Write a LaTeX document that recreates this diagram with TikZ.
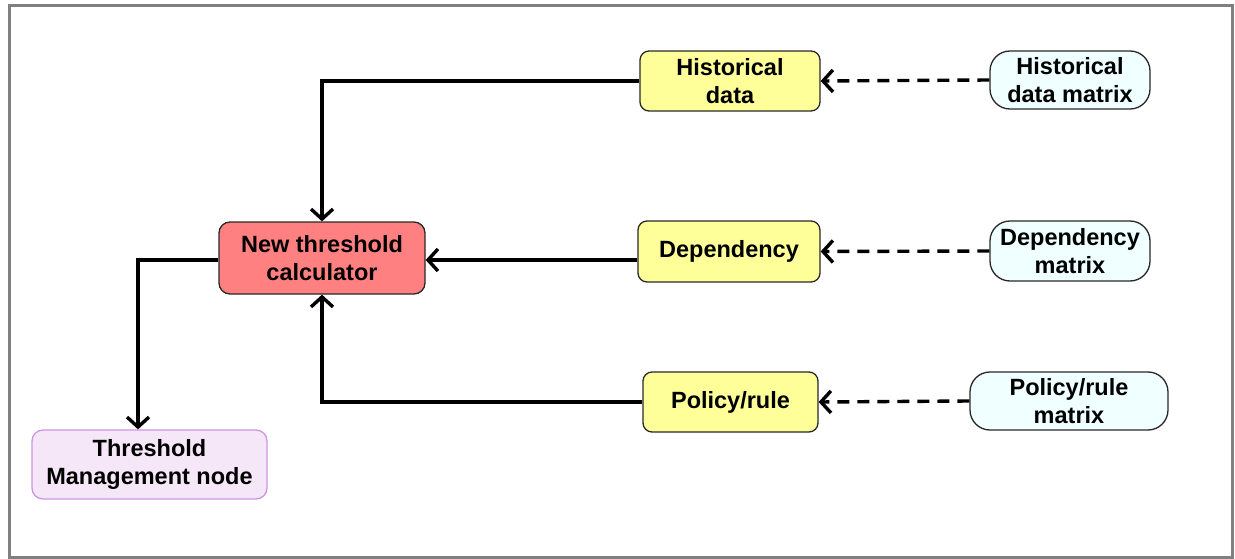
\documentclass[tikz,border=0pt]{standalone}
\usepackage{fontspec}
\setmainfont{Liberation Sans}
\usetikzlibrary{arrows.meta}
\definecolor{boxyellow}{RGB}{255,255,153}
\definecolor{calcred}{RGB}{255,128,128}
\definecolor{matrixcyan}{RGB}{240,255,255}
\definecolor{mgmtfill}{RGB}{245,230,248}
\definecolor{mgmtline}{RGB}{205,150,225}
\definecolor{framegray}{RGB}{128,128,128}
\definecolor{edgegray}{RGB}{40,40,40}
\tikzset{
  x=1pt, y=-1pt,
  every node/.style={font=\fontsize{23.5}{28}\selectfont\bfseries, align=center, inner sep=0pt},
  inputbox/.style={draw=edgegray, line width=1.3pt, fill=boxyellow, rounded corners=9pt},
  matrixbox/.style={draw=edgegray, line width=1.3pt, fill=matrixcyan, rounded corners=20pt},
  calcbox/.style={draw=edgegray, line width=1.3pt, fill=calcred, rounded corners=11pt},
  mgmtbox/.style={draw=mgmtline, line width=1.3pt, fill=mgmtfill, rounded corners=11pt},
  flow/.style={line width=3.4pt, -{Straight Barb[length=10pt,width=22pt,line width=3.4pt]}},
  feed/.style={flow, dash pattern=on 12pt off 8pt}
}
\begin{document}
\begin{tikzpicture}
\useasboundingbox (0,0) rectangle (1235,559);
\draw[framegray, line width=3pt] (9,6) rectangle (1232,557);

% central calculator and its output
\node[calcbox, minimum width=206pt, minimum height=72pt] (calc) at (322,258) {New threshold\\calculator};
\node[mgmtbox, minimum width=235pt, minimum height=69pt] (mgmt) at (149.5,464.5) {Threshold\\Management node};

% input sources
\node[inputbox, minimum width=180pt, minimum height=60pt] (hist) at (730,81) {Historical\\data};
\node[inputbox, minimum width=182pt, minimum height=61pt] (dep) at (729,251.5) {Dependency};
\node[inputbox, minimum width=175pt, minimum height=60pt] (pol) at (730.5,402) {Policy/rule};

% matrices feeding the sources
\node[matrixbox, minimum width=160pt, minimum height=58pt] (histm) at (1070,80) {Historical\\data matrix};
\node[matrixbox, minimum width=160pt, minimum height=60pt] (depm) at (1070,251) {Dependency\\matrix};
\node[matrixbox, minimum width=198pt, minimum height=58pt] (polm) at (1069,401) {Policy/rule\\matrix};

% solid flows into and out of the calculator
\draw[flow] (hist.west) -| (calc.north);
\draw[flow] ([yshift=-8.5pt]dep.west) -- ([yshift=-2pt]calc.east);
\draw[flow] (pol.west) -| (calc.south);
\draw[flow] ([yshift=-2pt]calc.west) -| ([xshift=-11.5pt]mgmt.north);

% dashed feeds from the matrices
\draw[feed] (histm.west) -- (hist.east);
\draw[feed] (depm.west) -- (dep.east);
\draw[feed] (polm.west) -- (pol.east);
\end{tikzpicture}
\end{document}
